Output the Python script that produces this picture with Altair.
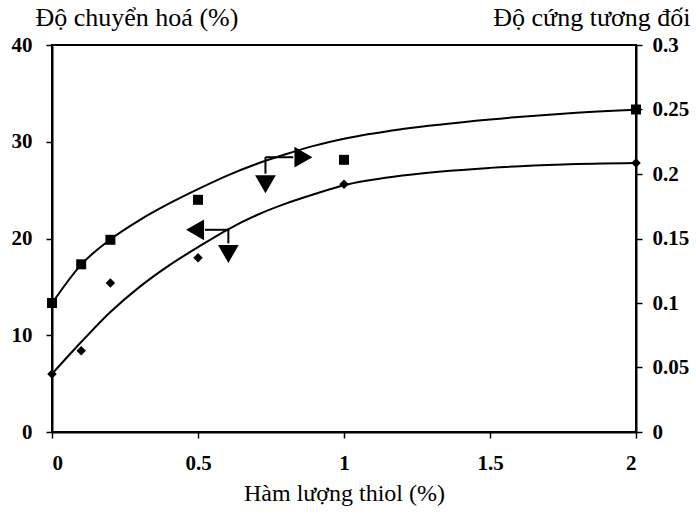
import altair as alt
import pandas as pd

# Measured points
thiol = [0, 0.1, 0.2, 0.5, 1.0, 2.0]
conversion = [6.0, 8.4, 15.4, 18.0, 25.6, 27.8]          # left axis, diamonds
hardness = [0.100, 0.130, 0.149, 0.180, 0.211, 0.250]    # right axis, squares

# Fitted curves
fit_x = [0, 0.1, 0.2, 0.3, 0.4, 0.5, 0.6, 0.7, 0.8, 0.9, 1.0, 1.2, 1.5, 1.75, 2.0]
fit_conversion = [6.0, 9.3, 12.4, 15.0, 17.2, 19.1, 20.9, 22.4, 23.6, 24.6, 25.5, 26.5, 27.3, 27.65, 27.8]
fit_hardness = [0.0998, 0.1298, 0.1493, 0.1643, 0.1770, 0.1883, 0.1988, 0.2078, 0.2153, 0.2220,
                0.2273, 0.2348, 0.2423, 0.2468, 0.2498]

# Annotation arrows (data units of left axis)
shaft_x = [0.731, 0.731, 0.604, 0.604]
shaft_y = [28.4, 28.4, 20.9, 20.9]
shaft_x2 = [0.826, 0.731, 0.524, 0.604]
shaft_y2 = [28.4, 26.7, 20.9, 19.5]
head_x = [0.861, 0.731, 0.490, 0.604]
head_y = [28.4, 25.6, 20.9, 18.4]
head_shape = ["triangle-right", "triangle-down", "triangle-left", "triangle-down"]

pts = pd.DataFrame({"x": thiol, "conv": conversion, "hard": hardness})
fit = pd.DataFrame({"x": fit_x, "conv": fit_conversion, "hard": fit_hardness})
shafts = pd.DataFrame({"x": shaft_x, "y": shaft_y, "x2": shaft_x2, "y2": shaft_y2})
heads = pd.DataFrame({"x": head_x, "y": head_y, "shape": head_shape})

FONT = "Liberation Serif"

xaxis = alt.Axis(
    values=[0, 0.5, 1, 1.5, 2], format="~g", title="Hàm lượng thiol (%)",
    titleY=68, titleBaseline="alphabetic", titleFontSize=24, labelPadding=14,
)
xenc = alt.X("x:Q", scale=alt.Scale(domain=[0, 2], nice=False, zero=False), axis=xaxis)

yleft_scale = alt.Scale(domain=[0, 40], nice=False)
yleft_axis = alt.Axis(
    values=[0, 10, 20, 30, 40], title="Độ chuyển hoá (%)", titleAngle=0,
    titleAlign="left", titleBaseline="alphabetic", titleX=-17, titleY=-20,
    titleFontSize=26, labelPadding=14, orient="left",
)

line_left = alt.Chart(fit).mark_line(color="black", strokeWidth=2, interpolate="monotone").encode(
    x=xenc, y=alt.Y("conv:Q", scale=yleft_scale, axis=yleft_axis)
)
pts_left = alt.Chart(pts).mark_point(shape="diamond", filled=True, color="black", size=90, opacity=1).encode(
    x=xenc, y=alt.Y("conv:Q", scale=yleft_scale, axis=yleft_axis)
)
arrow_shafts = alt.Chart(shafts).mark_rule(color="black", strokeWidth=2).encode(
    x=xenc, y=alt.Y("y:Q", scale=yleft_scale, axis=yleft_axis), x2="x2:Q", y2="y2:Q"
)
arrow_heads = alt.Chart(heads).mark_point(filled=True, color="black", size=430, opacity=1).encode(
    x=xenc, y=alt.Y("y:Q", scale=yleft_scale, axis=yleft_axis),
    shape=alt.Shape("shape:N", scale=None),
)
left = alt.layer(line_left, pts_left, arrow_shafts, arrow_heads)

yright_scale = alt.Scale(domain=[0, 0.3], nice=False)
yright_axis = alt.Axis(
    values=[0, 0.05, 0.1, 0.15, 0.2, 0.25, 0.3], format="~g", title="Độ cứng tương đối",
    titleAngle=0, titleAlign="right", titleBaseline="alphabetic", titleX=54, titleY=-20,
    titleFontSize=26, labelPadding=10, orient="right",
)
line_right = alt.Chart(fit).mark_line(color="black", strokeWidth=2, interpolate="monotone").encode(
    x=xenc, y=alt.Y("hard:Q", scale=yright_scale, axis=yright_axis)
)
pts_right = alt.Chart(pts).mark_point(shape="square", filled=True, color="black", size=100, opacity=1).encode(
    x=xenc, y=alt.Y("hard:Q", scale=yright_scale, axis=yright_axis)
)
right = alt.layer(line_right, pts_right)

chart = (
    alt.layer(left, right)
    .resolve_scale(y="independent")
    .properties(
        width=584, height=387,
        autosize=alt.AutoSizeParams(type="none"),
        padding={"left": 52, "top": 45, "right": 60, "bottom": 84},
        background="white",
    )
    .configure_view(stroke="black", strokeWidth=2)
    .configure_axis(
        grid=False, domainColor="black", domainWidth=2, tickColor="black", tickWidth=1.5,
        tickSize=6, labelFont=FONT, labelFontSize=21, labelFontWeight="bold", labelColor="black",
        titleFont=FONT, titleFontWeight="normal", titleColor="black",
    )
)

chart.save("out.html", embed_options={"renderer": "svg", "actions": False})
